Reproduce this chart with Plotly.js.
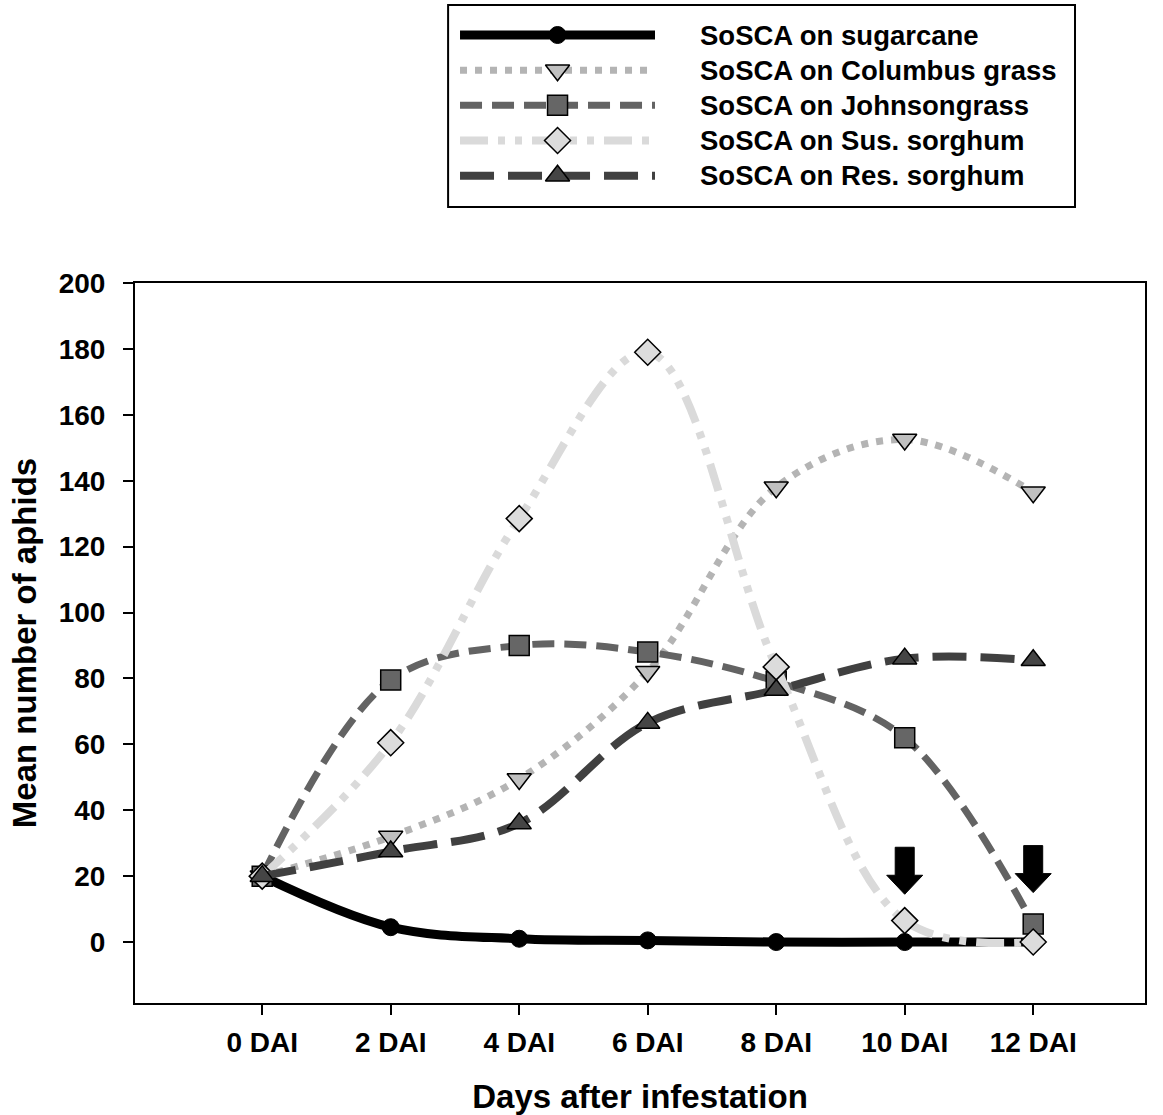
<!DOCTYPE html>
<html>
<head>
<meta charset="utf-8">
<script src="https://cdn.plot.ly/plotly-3.0.1.min.js"></script>
<style>html,body{margin:0;padding:0;background:#fff;}#chart{width:1163px;height:1115px;}</style>
</head>
<body>
<div id="chart"></div>
<script>
// ---- data ----
const days = [0, 2, 4, 6, 8, 10, 12];
const dayLabels = ['0 DAI', '2 DAI', '4 DAI', '6 DAI', '8 DAI', '10 DAI', '12 DAI'];
const seriesNames = ['SoSCA on sugarcane', 'SoSCA on Columbus grass', 'SoSCA on Johnsongrass', 'SoSCA on Sus. sorghum', 'SoSCA on Res. sorghum'];
const sugarcane   = [20, 4.5, 1, 0.5, 0, 0, 0];
const columbus    = [20, 32, 49.5, 82, 138, 152.5, 136.5];
const johnson     = [20, 79.5, 90, 88, 79, 62, 5.5];
const susSorghum  = [20, 60.5, 128.5, 179, 83.5, 6.5, 0];
const resSorghum  = [20, 27.5, 36, 66.5, 76.5, 86, 85.5];
const arrowDays   = [10, 12];
const arrowTipY   = [14.5, 15];

// ---- styles ----
const FONT = 'Liberation Sans, Arial, sans-serif';
const styles = [
  {line: {color: '#000000', width: 9, dash: 'solid'}, marker: {symbol: 'circle', color: '#000000', size: 17, line: {color: '#000000', width: 1}}},
  {line: {color: '#b4b4b4', width: 7, dash: '7px,8px'}, marker: {symbol: 'triangle-down', color: '#c0c0c0', size: 21, line: {color: '#000000', width: 1.5}}},
  {line: {color: '#636363', width: 7, dash: '22px,10px'}, marker: {symbol: 'square', color: '#666666', size: 20, line: {color: '#000000', width: 1.5}}},
  {line: {color: '#dadada', width: 8, dash: '28px,10px,7px,10px,7px,10px'}, marker: {symbol: 'diamond', color: '#dcdcdc', size: 20, line: {color: '#000000', width: 1.5}}},
  {line: {color: '#404040', width: 8, dash: '34px,14px'}, marker: {symbol: 'triangle-up', color: '#454545', size: 21, line: {color: '#000000', width: 1.5}}}
];
const allSeries = [sugarcane, columbus, johnson, susSorghum, resSorghum];

const traces = [];
allSeries.forEach((vals, i) => {
  traces.push({
    x: days, y: vals, type: 'scatter', mode: 'lines+markers', name: seriesNames[i],
    line: Object.assign({shape: 'spline', smoothing: 1}, styles[i].line),
    marker: styles[i].marker, showlegend: false, hoverinfo: 'x+y+name'
  });
});

// custom legend drawn on helper axes
const legendRows = [0, 1, 2, 3, 4];
allSeries.forEach((vals, i) => {
  traces.push({
    x: [0, 1], y: [legendRows[i], legendRows[i]], xaxis: 'x2', yaxis: 'y2', type: 'scatter', mode: 'lines',
    line: styles[i].line, showlegend: false, hoverinfo: 'skip'
  });
  traces.push({
    x: [0.5], y: [legendRows[i]], xaxis: 'x2', yaxis: 'y2', type: 'scatter', mode: 'markers',
    marker: styles[i].marker, showlegend: false, hoverinfo: 'skip'
  });
});

const annotations = seriesNames.map((n, i) => ({
  text: n, xref: 'paper', yref: 'y2', x: 0.5574, y: legendRows[i], xanchor: 'left', yanchor: 'middle',
  showarrow: false, font: {family: FONT, size: 27.5, color: '#000', weight: 'bold'}
}));

const shapes = [
  {type: 'rect', xref: 'paper', yref: 'paper', x0: 0.31, x1: 0.9307, y0: 0.796, y1: 0.998, line: {color: '#000', width: 2}, fillcolor: 'rgba(0,0,0,0)'}
];
arrowDays.forEach((d, i) => {
  shapes.push({
    type: 'path', xref: 'x', yref: 'y', xsizemode: 'pixel', ysizemode: 'pixel',
    xanchor: d, yanchor: arrowTipY[i],
    path: 'M0,0 L-18,19 L-9.5,19 L-9.5,47 L9.5,47 L9.5,19 L18,19 Z',
    fillcolor: '#000', line: {color: '#000', width: 1}
  });
});

const layout = {
  width: 1163, height: 1115,
  margin: {l: 135, r: 18, t: 3, b: 112},
  paper_bgcolor: '#fff', plot_bgcolor: '#fff',
  font: {family: FONT, color: '#000'},
  showlegend: false,
  xaxis: {
    range: [-1.98, 13.74], tickmode: 'array', tickvals: days, ticktext: dayLabels,
    showgrid: false, zeroline: false, showline: true, mirror: true, linecolor: '#000', linewidth: 2,
    ticks: 'outside', ticklen: 10, tickwidth: 2, tickcolor: '#000', ticklabelstandoff: 3,
    tickfont: {family: FONT, size: 28, color: '#000', weight: 'bold'},
    title: {text: 'Days after infestation', font: {family: FONT, size: 33, color: '#000', weight: 'bold'}, standoff: 30},
    domain: [0, 1]
  },
  yaxis: {
    range: [-18.5, 200], tick0: 0, dtick: 20,
    showgrid: false, zeroline: false, showline: true, mirror: true, linecolor: '#000', linewidth: 2,
    ticks: 'outside', ticklen: 10, tickwidth: 2, tickcolor: '#000', ticklabelstandoff: 12,
    tickfont: {family: FONT, size: 28, color: '#000', weight: 'bold'},
    title: {text: 'Mean number of aphids', font: {family: FONT, size: 33, color: '#000', weight: 'bold'}, standoff: 12},
    domain: [0, 0.72]
  },
  xaxis2: {domain: [0.3218, 0.5149], range: [0, 1], visible: false, fixedrange: true, anchor: 'y2'},
  yaxis2: {domain: [0.796, 1.0], range: [4.89, -0.91], visible: false, fixedrange: true, anchor: 'x2'},
  annotations: annotations,
  shapes: shapes
};

Plotly.newPlot('chart', traces, layout, {displayModeBar: false, staticPlot: true});
</script>
</body>
</html>
